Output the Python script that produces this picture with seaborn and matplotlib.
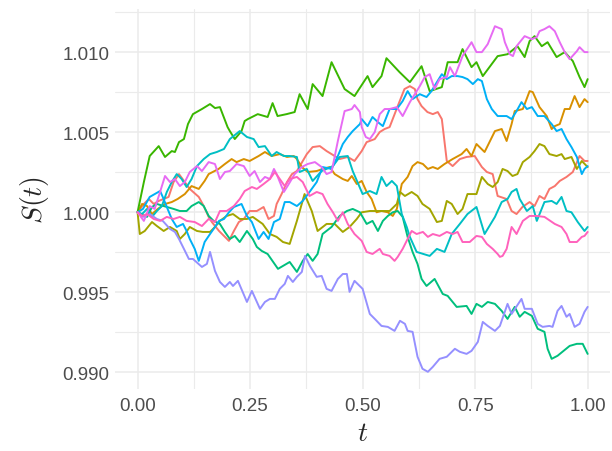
import pandas as pd
import matplotlib
matplotlib.use("Agg")
import matplotlib.pyplot as plt
from matplotlib.ticker import MultipleLocator, FormatStrFormatter
import seaborn as sns

sns.set_style("white")
plt.rcParams['font.family'] = ['Liberation Sans', 'DejaVu Sans']
plt.rcParams['mathtext.fontset'] = 'cm'

# ten simulated price paths
t1 = [0, .014, .025, .036, .047, .069, .080, .092, .105, .116, .136, .147, .158, .165, .181, .192, .203, .214, .225, .236, .249, .265, .280, .291, .303, .309, .320, .332, .343, .354, .376, .389, .405, .420, .431, .449, .467, .482, .498, .509, .527, .538, .549, .560, .578, .593, .605, .616, .622, .631, .644, .656, .667, .676, .687, .700, .716, .731, .749, .765, .776, .789, .800, .820, .831, .842, .855, .871, .882, .893, .904, .915, .927, .938, .953, .967, .982, .993, 1.0]
s1 = [1.0, 1.00052, 1.00083, 1.00052, 1.00071, 1.00096, 1.00189, 1.00239, 1.00189, 1.00146, 1.00096, 1.00039, 0.99971, 0.99939, 0.99883, 0.99852, 0.99821, 0.99883, 0.99939, 0.99958, 1.00008, 1.00008, 1.00033, 0.99958, 0.99977, 1.00052, 1.00114, 1.00189, 1.00239, 1.00258, 1.00364, 1.00408, 1.00414, 1.00383, 1.00364, 1.00333, 1.00346, 1.00321, 1.00383, 1.00439, 1.00458, 1.00502, 1.00521, 1.00533, 1.00664, 1.00771, 1.00789, 1.00771, 1.00708, 1.00664, 1.00627, 1.00614, 1.00627, 1.00583, 1.00321, 1.00289, 1.00333, 1.00346, 1.00352, 1.00283, 1.00252, 1.00239, 1.00102, 1.00083, 1.00008, 0.99989, 1.00033, 1.00064, 1.00039, 1.00102, 1.00083, 1.00146, 1.00164, 1.00196, 1.00221, 1.00252, 1.00352, 1.00321, 1.00321]

t2 = [0, .010, .021, .032, .045, .061, .076, .089, .105, .120, .136, .149, .158, .180, .194, .209, .220, .236, .249, .269, .283, .298, .316, .332, .347, .354, .365, .378, .398, .411, .427, .438, .456, .467, .476, .487, .498, .509, .520, .531, .542, .556, .567, .576, .587, .600, .611, .622, .634, .645, .656, .667, .682, .700, .720, .731, .742, .753, .771, .794, .809, .820, .831, .838, .856, .871, .878, .893, .909, .920, .927, .938, .949, .960, .971, .982, .993, 1.0]
s2 = [1.0, 1.00052, 1.00039, 0.99989, 1.00021, 1.00052, 1.00064, 1.00083, 1.00114, 1.00164, 1.00146, 1.00196, 1.00239, 1.00271, 1.00302, 1.00333, 1.00314, 1.00333, 1.00321, 1.00352, 1.00377, 1.00352, 1.00364, 1.00346, 1.00352, 1.00333, 1.00283, 1.00252, 1.00258, 1.00271, 1.00283, 1.00239, 1.00208, 1.00196, 1.00227, 1.00177, 1.00196, 1.00127, 1.00083, 1.0, 1.00008, 1.0, 0.99977, 1.00021, 1.00177, 1.00221, 1.00289, 1.00314, 1.00302, 1.00271, 1.00283, 1.00271, 1.00302, 1.00333, 1.00364, 1.00396, 1.00352, 1.00427, 1.00377, 1.00508, 1.00521, 1.00446, 1.00552, 1.00633, 1.00646, 1.00758, 1.00752, 1.00658, 1.00602, 1.00521, 1.00539, 1.00552, 1.00646, 1.00646, 1.00727, 1.00658, 1.00708, 1.00689]

t3 = [0, .005, .016, .032, .043, .058, .072, .087, .094, .105, .116, .132, .145, .161, .172, .183, .198, .212, .227, .243, .256, .278, .294, .309, .323, .338, .354, .371, .387, .400, .420, .438, .456, .471, .487, .498, .516, .538, .560, .576, .583, .594, .609, .622, .633, .649, .665, .676, .687, .698, .711, .722, .733, .753, .765, .778, .789, .800, .811, .822, .833, .844, .856, .871, .882, .893, .904, .915, .931, .942, .949, .964, .976, .987, 1.0]
s3 = [1.0, 0.99864, 0.99883, 0.99939, 0.99914, 0.99883, 0.99908, 0.99883, 0.99833, 0.99864, 0.99908, 0.99883, 0.99877, 0.99877, 0.99908, 0.99946, 0.99977, 0.99989, 0.99958, 0.99958, 0.99971, 0.99927, 0.99864, 0.99846, 0.99814, 0.99802, 0.99946, 1.00114, 1.00008, 0.99883, 0.99927, 0.99927, 0.99877, 0.99908, 0.99958, 1.0, 1.00008, 1.00008, 1.00008, 1.00052, 1.00127, 1.00102, 1.00127, 1.00102, 1.00052, 1.00021, 0.99939, 0.99946, 1.00071, 1.00052, 0.99989, 1.00021, 1.00114, 1.00114, 1.00221, 1.00177, 1.00158, 1.00189, 1.00271, 1.00258, 1.00227, 1.00239, 1.00314, 1.00346, 1.00383, 1.00427, 1.00414, 1.00364, 1.00352, 1.00364, 1.00333, 1.00346, 1.00271, 1.00321, 1.00283]

t4 = [0, .014, .027, .047, .061, .076, .083, .092, .103, .112, .123, .143, .161, .172, .183, .200, .205, .216, .231, .238, .245, .267, .289, .300, .311, .331, .349, .360, .378, .389, .411, .431, .460, .482, .511, .522, .542, .553, .582, .605, .631, .649, .676, .689, .711, .722, .742, .753, .767, .800, .822, .844, .860, .871, .882, .898, .911, .931, .949, .967, .982, .993, 1.0]
s4 = [1.0, 1.00189, 1.00352, 1.00414, 1.00346, 1.00383, 1.00377, 1.00439, 1.00458, 1.00552, 1.00614, 1.00646, 1.00677, 1.00652, 1.00658, 1.00533, 1.00508, 1.00458, 1.00508, 1.00571, 1.00583, 1.00614, 1.00596, 1.00683, 1.00602, 1.00614, 1.00627, 1.00739, 1.00646, 1.00802, 1.00727, 1.00939, 1.00771, 1.00727, 1.00852, 1.00783, 1.00852, 1.00964, 1.00877, 1.00814, 1.00914, 1.00758, 1.00783, 1.00939, 1.00939, 1.01021, 1.00908, 1.00939, 1.00852, 1.00977, 1.00989, 1.01039, 1.00971, 1.01071, 1.01102, 1.01039, 1.01064, 1.00971, 1.01002, 1.00946, 1.00846, 1.00783, 1.00833]

t5 = [0, .021, .032, .043, .058, .080, .094, .109, .120, .136, .147, .158, .169, .183, .194, .205, .216, .227, .243, .256, .265, .276, .289, .312, .338, .354, .367, .378, .389, .400, .411, .431, .449, .465, .478, .494, .509, .522, .534, .545, .556, .567, .578, .589, .600, .611, .622, .631, .642, .660, .678, .689, .700, .709, .731, .742, .753, .765, .778, .794, .809, .822, .838, .849, .860, .876, .889, .904, .911, .920, .933, .960, .976, .989, 1.0]
s5 = [1.0, 0.99971, 1.00033, 1.00052, 1.00039, 1.00021, 1.00008, 1.00008, 1.00039, 1.00064, 1.00039, 0.99977, 0.99946, 0.99927, 0.99877, 0.99833, 0.99852, 0.99814, 0.99883, 0.99833, 0.99783, 0.99758, 0.99739, 0.99646, 0.99689, 0.99627, 0.99696, 0.99739, 0.99696, 0.99739, 0.99864, 0.99908, 0.99977, 1.00008, 1.00021, 1.0, 0.99927, 0.99946, 0.99883, 0.99946, 0.99977, 1.0, 1.00008, 0.99971, 0.99846, 0.99752, 0.99677, 0.99583, 0.99539, 0.99583, 0.99489, 0.99477, 0.99439, 0.99408, 0.99414, 0.99364, 0.99427, 0.99408, 0.99439, 0.99427, 0.99383, 0.99333, 0.99408, 0.99346, 0.99377, 0.99352, 0.99271, 0.99252, 0.99146, 0.99083, 0.99102, 0.99164, 0.99177, 0.99177, 0.99114]

t6 = [0, .010, .021, .032, .043, .054, .065, .076, .087, .098, .109, .120, .132, .147, .161, .176, .192, .205, .227, .243, .258, .269, .283, .298, .309, .325, .338, .354, .360, .376, .389, .409, .434, .449, .467, .478, .500, .516, .531, .542, .553, .565, .576, .587, .598, .605, .620, .649, .665, .682, .698, .716, .733, .753, .771, .794, .809, .822, .831, .842, .849, .865, .878, .887, .904, .920, .931, .942, .953, .964, .978, .993, 1.0]
s6 = [1.0, 0.99989, 1.00021, 0.99971, 1.00008, 1.00039, 1.00127, 1.00189, 1.00239, 1.00208, 1.00158, 1.00208, 1.00289, 1.00333, 1.00364, 1.00377, 1.00396, 1.00458, 1.00508, 1.00471, 1.00458, 1.00408, 1.00414, 1.00352, 1.00377, 1.00352, 1.00352, 1.00346, 1.00252, 1.00271, 1.00196, 1.00258, 1.00289, 1.00346, 1.00352, 1.00258, 1.00114, 1.00133, 1.00114, 1.00221, 1.00164, 1.00196, 1.00164, 0.99989, 0.99908, 0.99846, 0.99752, 0.99727, 0.99771, 0.99752, 0.99864, 0.99927, 0.99989, 1.00033, 0.99864, 0.99971, 1.00064, 1.00083, 1.00127, 1.00146, 1.00083, 1.00008, 1.00039, 0.99946, 1.00064, 1.00071, 1.00052, 1.00096, 1.00008, 1.0, 0.99939, 0.99883, 0.99908]

t7 = [0, .012, .027, .050, .056, .065, .076, .087, .101, .109, .116, .127, .136, .143, .149, .161, .169, .181, .192, .203, .214, .231, .243, .254, .269, .280, .291, .303, .316, .327, .338, .354, .367, .382, .398, .411, .431, .445, .456, .467, .478, .494, .498, .511, .522, .534, .545, .560, .576, .589, .600, .611, .627, .642, .653, .665, .676, .687, .698, .711, .722, .733, .745, .756, .765, .776, .787, .800, .820, .831, .842, .853, .865, .876, .889, .904, .920, .931, .942, .953, .964, .976, .987, .993, 1.0]
s7 = [1.0, 1.00021, 1.00096, 1.00133, 1.00096, 1.00033, 0.99958, 0.99908, 0.99927, 0.99883, 0.99833, 0.99771, 0.99696, 0.99758, 0.99814, 0.99864, 0.99896, 0.99946, 0.99958, 1.0, 1.00033, 1.00052, 0.99977, 0.99939, 0.99833, 0.99877, 0.99833, 0.99939, 0.99958, 1.00064, 1.00064, 1.00039, 1.00071, 1.00127, 1.00189, 1.00283, 1.00271, 1.00352, 1.00427, 1.00471, 1.00508, 1.00552, 1.00583, 1.00539, 1.00596, 1.00564, 1.00539, 1.00646, 1.00646, 1.00696, 1.00758, 1.00708, 1.00739, 1.00721, 1.00758, 1.00814, 1.00864, 1.00833, 1.00852, 1.00852, 1.00846, 1.00833, 1.00802, 1.00833, 1.00821, 1.00708, 1.00646, 1.00602, 1.00602, 1.00583, 1.00633, 1.00689, 1.00646, 1.00658, 1.00602, 1.00602, 1.00552, 1.00508, 1.00521, 1.00458, 1.00408, 1.00346, 1.00239, 1.00271, 1.00289]

t8 = [0, .012, .027, .043, .056, .072, .083, .092, .103, .114, .123, .143, .154, .161, .172, .183, .194, .205, .212, .223, .243, .254, .272, .283, .294, .305, .316, .327, .334, .345, .354, .365, .372, .383, .398, .409, .420, .431, .445, .456, .465, .471, .482, .500, .516, .527, .542, .556, .571, .583, .594, .600, .611, .622, .633, .645, .656, .671, .687, .705, .716, .731, .742, .756, .767, .778, .794, .805, .822, .831, .853, .860, .876, .889, .900, .915, .922, .933, .942, .953, .960, .971, .982, .993, 1.0]
s8 = [1.0, 0.99971, 0.99989, 0.99958, 0.99946, 0.99896, 0.99877, 0.99833, 0.99771, 0.99708, 0.99708, 0.99658, 0.99677, 0.99752, 0.99633, 0.99564, 0.99533, 0.99564, 0.99539, 0.99571, 0.99439, 0.99508, 0.99396, 0.99439, 0.99458, 0.99458, 0.99521, 0.99552, 0.99602, 0.99564, 0.99596, 0.99627, 0.99727, 0.99664, 0.99596, 0.99602, 0.99521, 0.99508, 0.99583, 0.99614, 0.99614, 0.99502, 0.99571, 0.99521, 0.99364, 0.99333, 0.99289, 0.99283, 0.99258, 0.99321, 0.99302, 0.99258, 0.99252, 0.99096, 0.99021, 0.99002, 0.99033, 0.99083, 0.99096, 0.99146, 0.99127, 0.99114, 0.99133, 0.99189, 0.99314, 0.99289, 0.99258, 0.99289, 0.99427, 0.99364, 0.99458, 0.99396, 0.99396, 0.99302, 0.99283, 0.99289, 0.99283, 0.99383, 0.99414, 0.99346, 0.99364, 0.99283, 0.99302, 0.99377, 0.99408]

t9 = [0, .014, .027, .038, .050, .061, .072, .083, .094, .105, .116, .132, .143, .158, .172, .183, .194, .205, .220, .236, .249, .260, .272, .283, .294, .303, .309, .325, .336, .349, .365, .378, .394, .409, .420, .431, .445, .460, .476, .482, .494, .498, .507, .516, .527, .538, .549, .560, .576, .589, .605, .627, .638, .649, .660, .671, .687, .694, .705, .722, .742, .753, .765, .778, .794, .809, .816, .827, .834, .842, .860, .876, .887, .893, .904, .915, .927, .938, .949, .960, .976, .982, .993, 1.0]
s9 = [1.0, 0.99946, 1.00039, 1.00021, 1.00127, 1.00227, 1.00189, 1.00208, 1.00164, 1.00189, 1.00252, 1.00289, 1.00258, 1.00314, 1.00302, 1.00208, 1.00252, 1.00258, 1.00302, 1.00289, 1.00227, 1.00258, 1.00189, 1.00221, 1.00208, 1.00271, 1.00239, 1.00127, 1.00177, 1.00239, 1.00283, 1.00302, 1.00314, 1.00283, 1.00239, 1.00252, 1.00446, 1.00633, 1.00646, 1.00671, 1.00627, 1.00533, 1.00471, 1.00458, 1.00502, 1.00614, 1.00646, 1.00646, 1.00658, 1.00602, 1.00689, 1.00789, 1.00846, 1.00864, 1.00771, 1.00833, 1.00846, 1.00908, 1.00852, 1.00977, 1.01064, 1.01002, 1.01002, 1.01052, 1.01164, 1.01146, 1.01064, 1.00989, 1.00977, 1.01039, 1.01102, 1.01083, 1.01096, 1.01133, 1.01146, 1.01164, 1.01133, 1.01064, 1.01002, 1.00958, 1.01008, 1.01033, 1.01002, 1.01002]

t10 = [0, .010, .021, .036, .050, .065, .080, .094, .109, .127, .143, .158, .172, .183, .198, .214, .227, .238, .254, .265, .280, .294, .305, .316, .327, .338, .354, .367, .382, .398, .411, .422, .434, .445, .456, .467, .482, .498, .509, .522, .538, .545, .560, .571, .578, .589, .600, .609, .620, .634, .645, .656, .671, .687, .700, .711, .722, .738, .753, .765, .776, .789, .800, .805, .811, .820, .831, .842, .856, .871, .887, .904, .927, .942, .953, .960, .976, .987, .993, 1.0]
s10 = [1.0, 0.99977, 0.99989, 0.99958, 0.99946, 0.99971, 0.99958, 0.99971, 0.99946, 0.99939, 0.99914, 0.99958, 0.99939, 1.00008, 1.00008, 1.00039, 1.00083, 1.00133, 1.00158, 1.00146, 1.00177, 1.00208, 1.00252, 1.00208, 1.00164, 1.00208, 1.00221, 1.00189, 1.00102, 1.00127, 1.00114, 1.00052, 1.0, 0.99946, 1.0, 0.99927, 0.99864, 0.99821, 0.99752, 0.99739, 0.99771, 0.99739, 0.99727, 0.99696, 0.99721, 0.99771, 0.99833, 0.99883, 0.99864, 0.99877, 0.99846, 0.99864, 0.99852, 0.99877, 0.99864, 0.99877, 0.99814, 0.99814, 0.99852, 0.99846, 0.99802, 0.99771, 0.99739, 0.99721, 0.99727, 0.99771, 0.99908, 0.99864, 0.99946, 0.99977, 0.99977, 0.99971, 0.99927, 0.99908, 0.99864, 0.99814, 0.99814, 0.99846, 0.99852, 0.99877]

colors = ["#F8766D", "#D89000", "#A3A500", "#39B600", "#00BF7D",
          "#00BFC4", "#00B0F6", "#9590FF", "#E76BF3", "#FF62BC"]

paths = [(t1, s1), (t2, s2), (t3, s3), (t4, s4), (t5, s5),
         (t6, s6), (t7, s7), (t8, s8), (t9, s9), (t10, s10)]
frames = []
for i, (t, s) in enumerate(paths):
    frames.append(pd.DataFrame({'t': t, 'S': s, 'path': f'path{i + 1}'}))
df = pd.concat(frames, ignore_index=True)

fig = plt.figure(figsize=(6.12, 4.52), dpi=100)
ax = fig.add_axes([0.188, 0.137, 0.809, 0.841])
sns.lineplot(data=df, x='t', y='S', hue='path', palette=colors, estimator=None,
             sort=False, legend=False, linewidth=1.4, ax=ax)

ax.set_xlim(-0.05, 1.05)
ax.xaxis.set_major_locator(MultipleLocator(0.25))
ax.xaxis.set_minor_locator(MultipleLocator(0.125))
ax.yaxis.set_major_locator(MultipleLocator(0.005))
ax.yaxis.set_minor_locator(MultipleLocator(0.0025))
ax.xaxis.set_major_formatter(FormatStrFormatter('%.2f'))
ax.yaxis.set_major_formatter(FormatStrFormatter('%.3f'))
ax.set_axisbelow(True)
ax.grid(which='major', color='#EBEBEB', linewidth=1.1)
ax.grid(which='minor', color='#EBEBEB', linewidth=0.8)
for sp in ax.spines.values():
    sp.set_visible(False)
ax.tick_params(which='both', length=0, labelsize=13.5, colors='#4D4D4D')
ax.tick_params(axis='x', pad=6)
ax.tick_params(axis='y', pad=4)

ax.set_xlabel(r'$t$', fontsize=20, labelpad=4)
ax.set_ylabel(r'$S(t)$', fontsize=20, labelpad=8)

fig.savefig('out.png', dpi=100)
